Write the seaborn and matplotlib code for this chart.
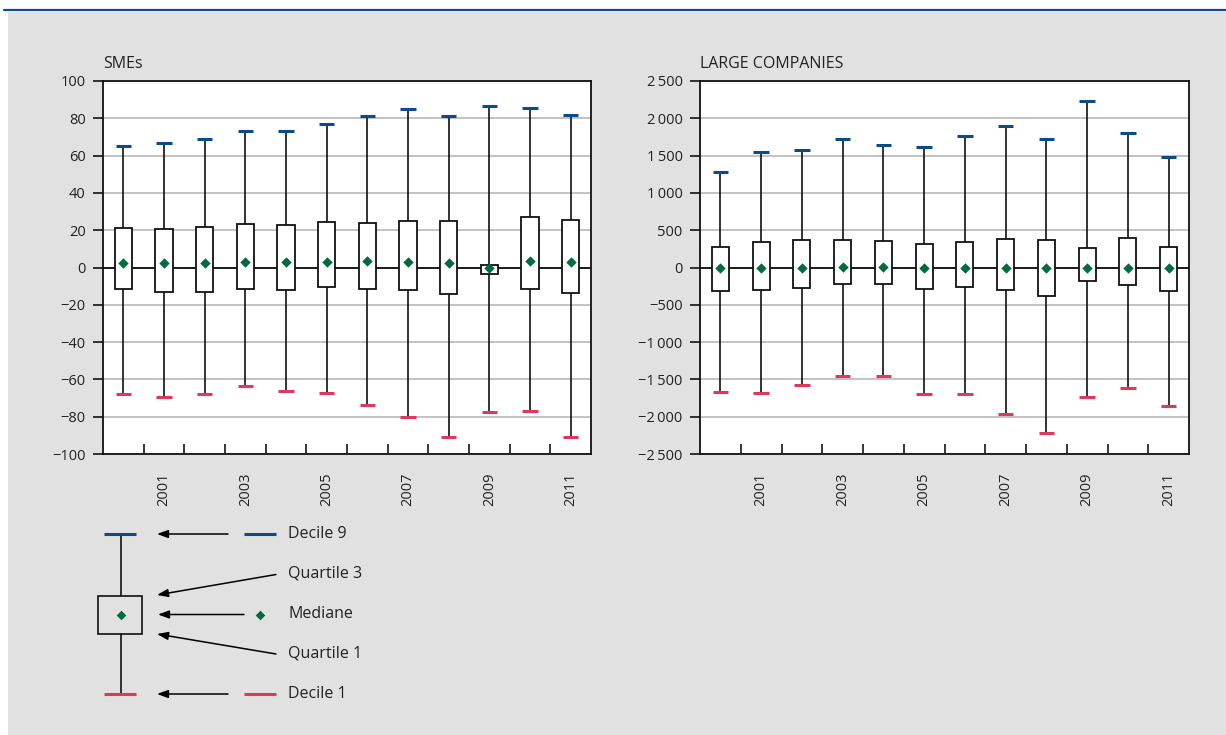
import numpy as np
import pandas as pd
import matplotlib
matplotlib.use("Agg")
import matplotlib.pyplot as plt
import seaborn as sns
from matplotlib.patches import Rectangle
from matplotlib.lines import Line2D
from matplotlib.ticker import FuncFormatter

# Distribution of the indicator by year: deciles, quartiles and median
years = list(range(2000, 2012))

sme_d1 = [-68, -69.4, -67.8, -63.5, -66.4, -67.3, -73.5, -80, -91, -77.6, -77, -91]
sme_q1 = [-11.4, -13, -13, -11.4, -11.9, -10.3, -11.4, -11.9, -14, -3.7, -11.4, -13.8]
sme_med = [2.6, 2.4, 2.6, 3.1, 3.0, 3.0, 3.3, 3.1, 2.4, -0.5, 3.5, 2.8]
sme_q3 = [21.2, 20.8, 21.9, 23.3, 23.0, 24.2, 24.0, 25.0, 25.0, 1.5, 27.0, 25.6]
sme_d9 = [65, 67, 69, 73, 73, 77, 81, 85, 81, 86.4, 85.5, 82]

lc_d1 = [-1664, -1678, -1580, -1454, -1454, -1696, -1691, -1960, -2214, -1731, -1620, -1852]
lc_q1 = [-311, -297, -279, -226, -226, -288, -261, -297, -382, -185, -239, -311]
lc_med = [0, 0, 0, 5, 5, 0, 0, 0, 0, 0, 0, 0]
lc_q3 = [275, 346, 369, 369, 360, 319, 342, 378, 369, 257, 395, 279]
lc_d9 = [1276, 1544, 1571, 1718, 1646, 1620, 1759, 1893, 1718, 2236, 1803, 1477]

BLUE = "#0b4a8b"
RED = "#e0385a"
GREEN = "#006b3f"
BG = "#e1e1e1"
GRID = "#b8b8b8"

sns.set_theme(style="ticks")
plt.rcParams["font.family"] = ["Open Sans", "DejaVu Sans"]
plt.rcParams["axes.unicode_minus"] = True

W, H = 1226, 735
fig = plt.figure(figsize=(W / 100, H / 100), dpi=100, facecolor="white")

# page background and top rule
fig.add_artist(Rectangle((8 / W, 0), 1 - 8 / W, 1 - 12 / H, transform=fig.transFigure,
                         facecolor=BG, edgecolor="none", zorder=-10))
fig.add_artist(Line2D([4 / W, 1], [1 - 10.3 / H] * 2, transform=fig.transFigure,
                      color="#114a8b", lw=1.6, zorder=-9))


def fmt_thousands(v, _):
    s = f"{abs(int(round(v))):,}".replace(",", "\u2009")
    return ("\u2212" if v < 0 else "") + s


def draw_panel(ax, d1, q1, med, q3, d9, title, yticks, formatter=None):
    pos = np.arange(len(years))
    stats = [dict(whislo=a, q1=b, med=c, q3=d, whishi=e, label=str(y))
             for a, b, c, d, e, y in zip(d1, q1, med, q3, d9, years)]
    ax.set_facecolor("white")
    ax.axhline(0, color="black", lw=1.2, zorder=1)
    art = ax.bxp(stats, positions=pos, widths=0.42, capwidths=0.38,
                 showfliers=False, patch_artist=True, manage_ticks=False,
                 boxprops=dict(facecolor="white", edgecolor="#111111", linewidth=1.3),
                 whiskerprops=dict(color="#111111", linewidth=1.2),
                 capprops=dict(linewidth=2.2, solid_capstyle="butt"),
                 medianprops=dict(visible=False))
    for i, cap in enumerate(art["caps"]):
        cap.set_color(RED if i % 2 == 0 else BLUE)
        cap.set_zorder(4)
    for b in art["boxes"]:
        b.set_zorder(3)
    for w in art["whiskers"]:
        w.set_zorder(2)

    df = pd.DataFrame({"pos": pos, "median": med})
    sns.scatterplot(data=df, x="pos", y="median", marker="D", color=GREEN, s=28,
                    linewidth=0, ax=ax, zorder=6, legend=False)

    ax.set_xlim(-0.5, len(years) - 0.5)
    ax.set_ylim(yticks[0], yticks[-1])
    ax.set_yticks(yticks)
    if formatter is not None:
        ax.yaxis.set_major_formatter(FuncFormatter(formatter))
    else:
        ax.yaxis.set_major_formatter(FuncFormatter(lambda v, _: ("\u2212" if v < 0 else "") + f"{abs(int(v))}"))
    ax.set_xticks(pos[1::2])
    ax.set_xticklabels([str(y) for y in years[1::2]], rotation=90)
    ax.set_xticks(pos[:-1] + 0.5, minor=True)
    ax.tick_params(axis="x", which="major", length=0, pad=13, labelsize=10.5, labelcolor="#222222")
    ax.tick_params(axis="x", which="minor", direction="in", length=7.5, width=1.1, color="black")
    ax.tick_params(axis="y", which="major", direction="out", length=7.5, width=1.1,
                   color="black", pad=5, labelsize=10.5, labelcolor="#222222")
    ax.grid(axis="y", color=GRID, lw=1.2, zorder=0)
    ax.set_axisbelow(True)
    for s in ax.spines.values():
        s.set_color("#111111")
        s.set_linewidth(1.3)
    ax.set_xlabel("")
    ax.set_ylabel("")
    ax.set_title(title, loc="left", pad=9, fontsize=11.5, color="#222222")


top = 1 - 81 / H
bot = 1 - 454 / H
ax1 = fig.add_axes([103 / W, bot, (591 - 103) / W, top - bot])
ax2 = fig.add_axes([700 / W, bot, (1189 - 700) / W, top - bot])

draw_panel(ax1, sme_d1, sme_q1, sme_med, sme_q3, sme_d9, "SMEs", list(range(-100, 101, 20)))
draw_panel(ax2, lc_d1, lc_q1, lc_med, lc_q3, lc_d9, "LARGE COMPANIES",
           list(range(-2500, 2501, 500)), fmt_thousands)

# key explaining the box elements
leg = fig.add_axes([80 / W, 1 - 710 / H, 320 / W, 200 / H])
leg.set_xlim(80, 400)
leg.set_ylim(710, 510)
leg.axis("off")
leg.patch.set_alpha(0)

leg.plot([121, 121], [534, 694], color="#111111", lw=1.2, zorder=1)
leg.add_patch(Rectangle((98, 596), 43.5, 37.5, facecolor=BG, edgecolor="#111111", lw=1.2, zorder=2))
leg.plot([104, 136], [534, 534], color=BLUE, lw=2.2, solid_capstyle="butt", zorder=3)
leg.plot([104, 136], [694, 694], color=RED, lw=2.2, solid_capstyle="butt", zorder=3)
leg.scatter([121], [614.5], marker="D", color=GREEN, s=24, lw=0, zorder=4)

arrow = dict(arrowstyle="-|>,head_length=0.55,head_width=0.2", color="black", lw=1.1,
             shrinkA=0, shrinkB=0)
leg.annotate("", xy=(157, 534), xytext=(228, 534), arrowprops=arrow)
leg.annotate("", xy=(157, 595), xytext=(276, 574.5), arrowprops=arrow)
leg.annotate("", xy=(158, 614.5), xytext=(244, 614.5), arrowprops=arrow)
leg.annotate("", xy=(157, 634), xytext=(276, 654), arrowprops=arrow)
leg.annotate("", xy=(157, 694), xytext=(228, 694), arrowprops=arrow)

leg.plot([244, 276], [534, 534], color=BLUE, lw=2.2, solid_capstyle="butt")
leg.plot([244, 276], [694, 694], color=RED, lw=2.2, solid_capstyle="butt")
leg.scatter([260], [614.5], marker="D", color=GREEN, s=24, lw=0)

labels = [("Decile 9", 534), ("Quartile 3", 574), ("Mediane", 614.5),
          ("Quartile 1", 654), ("Decile 1", 694)]
for txt, yy in labels:
    leg.text(288, yy, txt, ha="left", va="center", fontsize=11.5, color="#222222")

fig.savefig("out.png", dpi=100, facecolor="white")
